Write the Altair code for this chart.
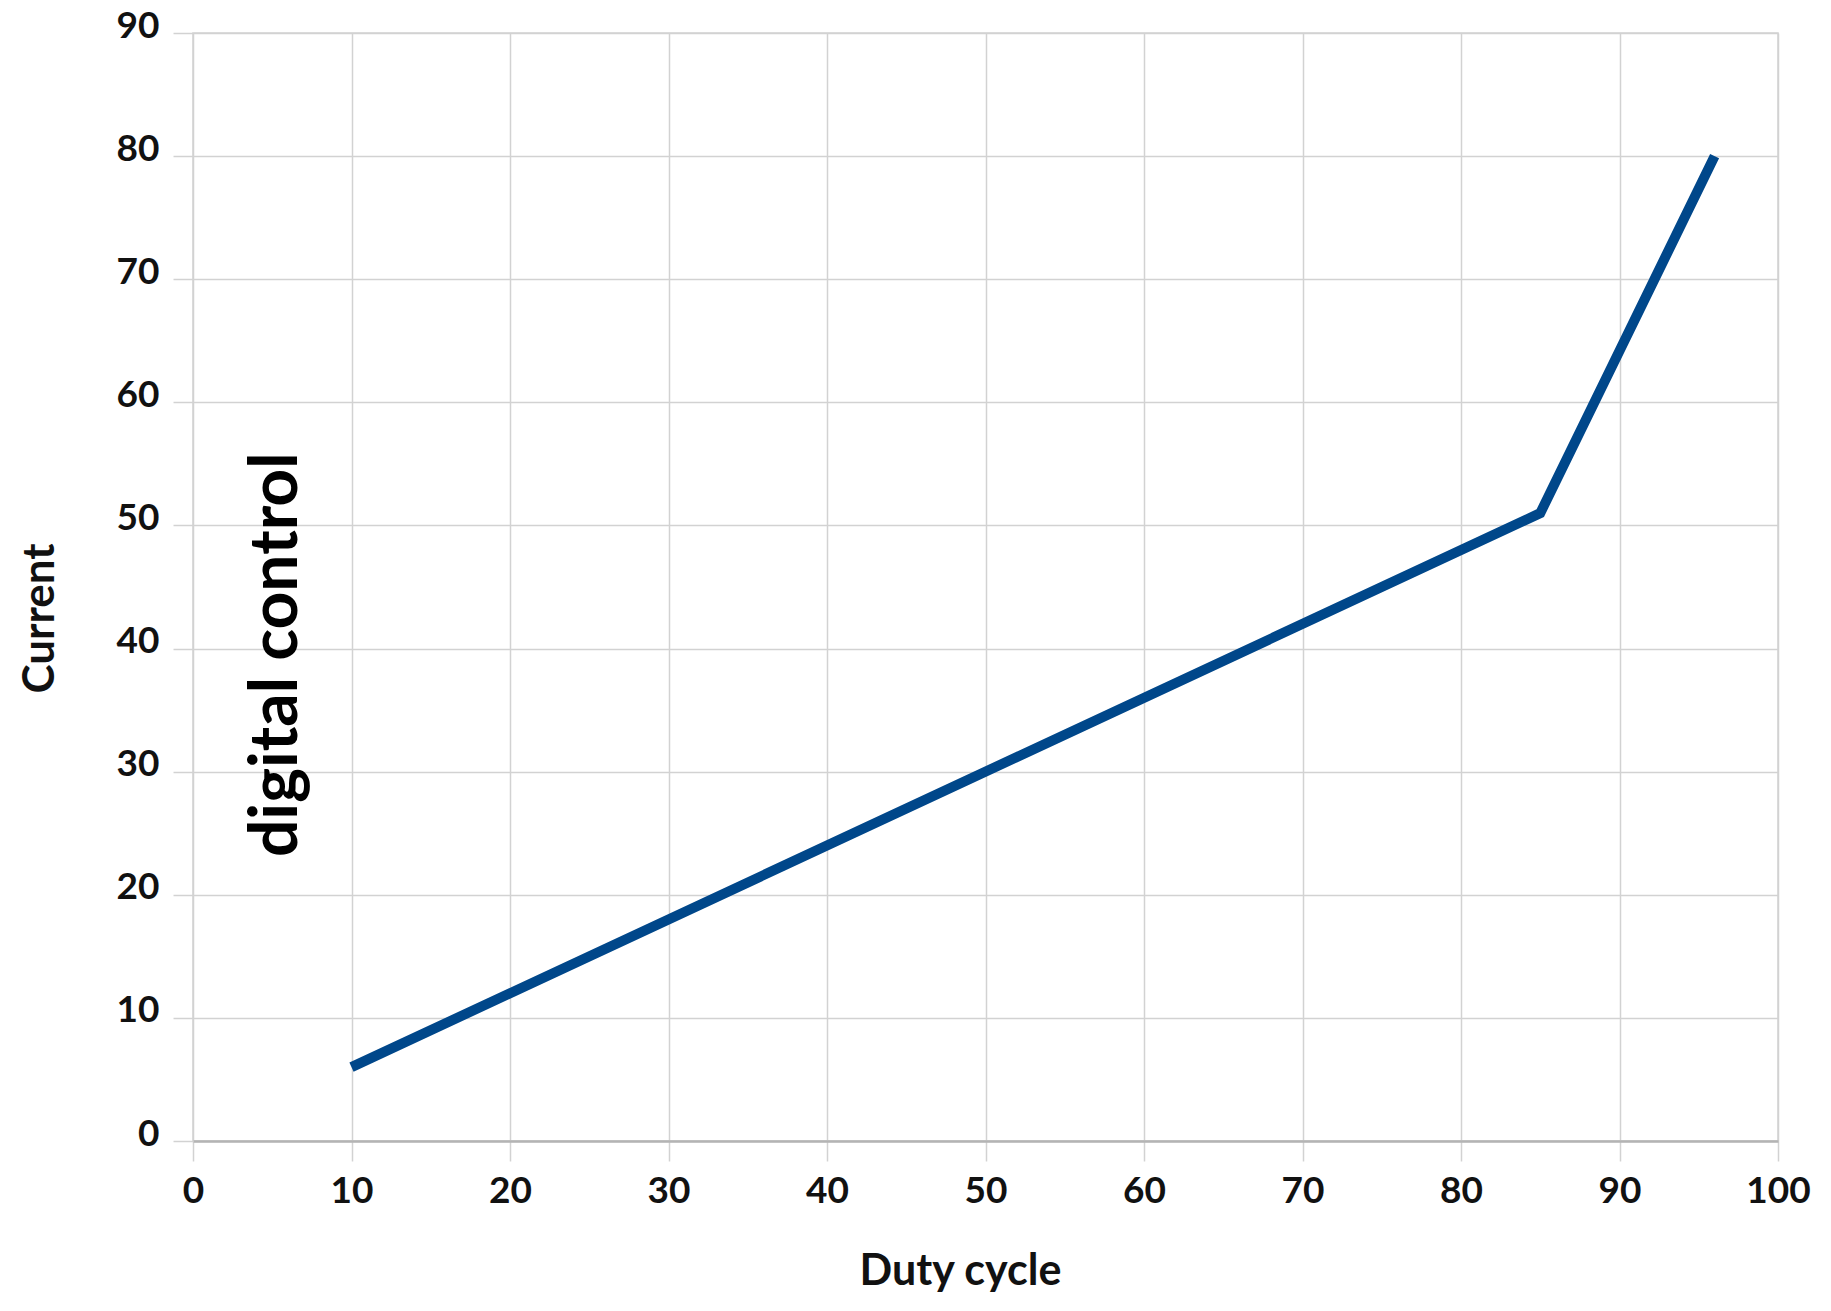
import altair as alt
import pandas as pd

duty_cycle = [10, 85, 96]
current = [6, 51, 80]
x_ticks = [0, 10, 20, 30, 40, 50, 60, 70, 80, 90, 100]
y_ticks = [0, 10, 20, 30, 40, 50, 60, 70, 80, 90]
note_text = ["digital control"]
note_x = [5.3]
note_y = [39.5]

FONT = "Lato"

line_df = pd.DataFrame({"Duty cycle": duty_cycle, "Current": current})
note_df = pd.DataFrame({"x": note_x, "y": note_y, "label": note_text})

xscale = alt.Scale(domain=[0, 100], nice=False, zero=False)
yscale = alt.Scale(domain=[0, 90], nice=False, zero=False)

xaxis = alt.Axis(
    values=x_ticks, title="Duty cycle", grid=True, gridColor="#d2d2d2", gridWidth=1.5,
    domain=True, domainColor="#b4b4b4", domainWidth=2.5,
    ticks=True, tickColor="#d2d2d2", tickWidth=1.5, tickSize=20,
    labelFont=FONT, labelFontSize=37, labelFontWeight="bold", labelColor="#111111",
    labelPadding=12, labelBaseline="top", labelFlush=False,
    titleFont=FONT, titleFontSize=43, titleFontWeight="bold", titleColor="#111111",
    titleX=767, titleY=143, titleBaseline="alphabetic", titleAlign="center",
)
yaxis = alt.Axis(
    values=y_ticks, title="Current", grid=True, gridColor="#d2d2d2", gridWidth=1.5,
    domain=False,
    ticks=True, tickColor="#d2d2d2", tickWidth=1.5, tickSize=20,
    labelFont=FONT, labelFontSize=37, labelFontWeight="bold", labelColor="#111111",
    labelPadding=14, labelBaseline="alphabetic", labelOffset=4, labelFlush=False,
    titleFont=FONT, titleFontSize=44, titleFontWeight="bold", titleColor="#111111",
    titleX=-140, titleY=585, titleBaseline="alphabetic", titleAlign="center", titleAngle=270,
)

line = alt.Chart(line_df).mark_line(color="#00478a", strokeWidth=10, strokeCap="butt", strokeJoin="miter").encode(
    x=alt.X("Duty cycle:Q", scale=xscale, axis=xaxis),
    y=alt.Y("Current:Q", scale=yscale, axis=yaxis),
)

note = alt.Chart(note_df).mark_text(
    font=FONT, fontSize=66, fontWeight="bold", color="#000000", angle=270,
    align="center", baseline="middle",
).encode(
    x=alt.X("x:Q", scale=xscale),
    y=alt.Y("y:Q", scale=yscale),
    text="label:N",
)

chart = alt.layer(line, note).properties(
    width=1585, height=1108,
    autosize=alt.AutoSizeParams(type="none"),
    padding={"left": 185, "top": 25, "right": 37, "bottom": 164},
).configure_view(stroke="#d2d2d2", strokeWidth=1.5)

chart.save("out.html", embed_options={"renderer": "svg", "actions": False})
